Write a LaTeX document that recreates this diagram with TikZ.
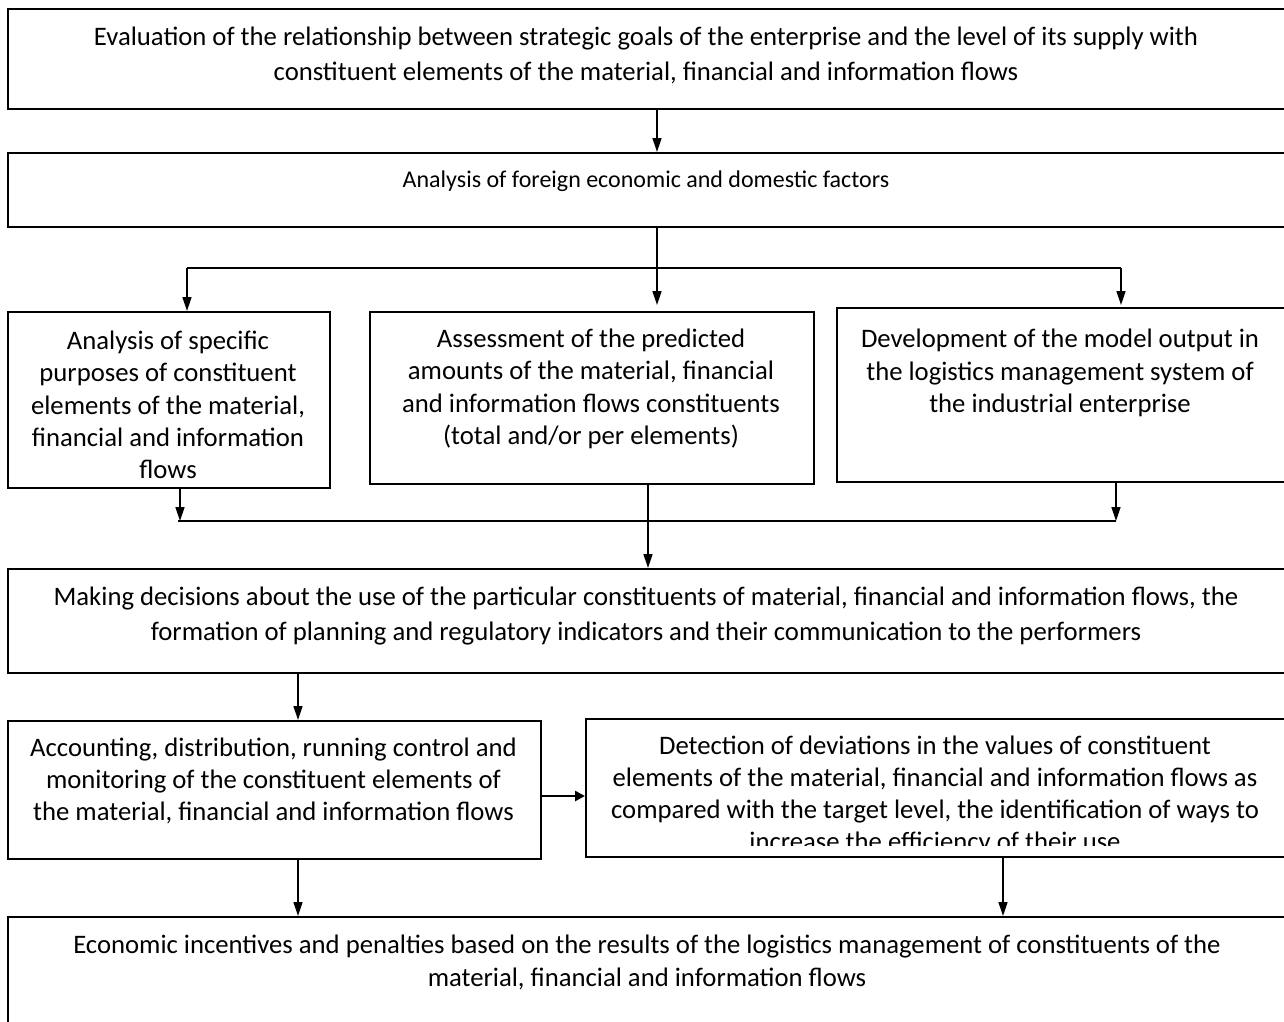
\documentclass[tikz,border=0pt]{standalone}
\usepackage{fontspec}
\setmainfont{Carlito}
\usetikzlibrary{arrows.meta}
\begin{document}
\begin{tikzpicture}[x=1pt,y=-1pt,
  box/.style={draw, line width=1.6pt, inner sep=0pt, anchor=north west},
  txt/.style={align=center, inner sep=0pt, font=\fontsize{26.7}{#1}\selectfont},
  txt/.default=33,
  small/.style={align=center, inner sep=0pt, font=\fontsize{24}{28}\selectfont},
  con/.style={line width=1.4pt, -{Triangle[length=14pt,width=9pt]}},
  bus/.style={line width=1.4pt},
  side/.style={line width=2.6pt, -{Triangle[length=10pt,width=10pt]}}]
\useasboundingbox (0,0) rectangle (1284,1021);
\clip (0,0) rectangle (1284,1021);

% boxes
\node[box, minimum width=1293pt, minimum height=100pt] (b1) at (7,8) {};
\node[box, minimum width=1293pt, minimum height=74pt] (b2) at (7,152) {};
\node[box, minimum width=322pt, minimum height=176pt] (b3a) at (7,311) {};
\node[box, minimum width=444pt, minimum height=172pt] (b3b) at (369,311) {};
\node[box, minimum width=464pt, minimum height=174pt] (b3c) at (836,307) {};
\node[box, minimum width=1293pt, minimum height=104pt] (b4) at (7,568) {};
\node[box, minimum width=533pt, minimum height=138pt] (b5a) at (7,720) {};
\node[box, minimum width=715pt, minimum height=138pt] (b5b) at (585,718) {};
\node[box, minimum width=1293pt, minimum height=114pt] (b6) at (7,916) {};

% texts
\node[txt=35] (t1) at (646,55) {Evaluation of the relationship between strategic goals of the enterprise and the level of its supply with\\constituent elements of the material, financial and information flows};
\node[small] (t2) at (646,181) {Analysis of foreign economic and domestic factors};
\node[txt=32.3] (t3a) at (168,405) {Analysis of specific\\purposes of constituent\\elements of the material,\\financial and information\\flows};
\node[txt=32.3] (t3b) at (591,389) {Assessment of the predicted\\amounts of the material, financial\\and information flows constituents\\(total and/or per elements)};
\node[txt=32.3] (t3c) at (1060,373) {Development of the model output in\\the logistics management system of\\the industrial enterprise};
\node[txt=35] (t4) at (646,616) {Making decisions about the use of the particular constituents of material, financial and information flows, the\\formation of planning and regulatory indicators and their communication to the performers};
\node[txt=32] (t5a) at (273.5,781) {Accounting, distribution, running control and\\monitoring of the constituent elements of\\the material, financial and information flows};
\begin{scope}
  \clip (b5b.north west) rectangle ([yshift=12pt]b5b.south east);
  \node[txt=32] (t5b) at (935,795) {Detection of deviations in the values of constituent\\elements of the material, financial and information flows as\\compared with the target level, the identification of ways to\\increase the efficiency of their use};
\end{scope}
\node[txt=33] (t6) at (647,962) {Economic incentives and penalties based on the results of the logistics management of constituents of the\\material, financial and information flows};

% connector positions
\coordinate (c1) at (657,0);
\coordinate (bl) at (187,268);
\coordinate (br) at (1121,268);
\coordinate (ml) at (180,521);
\coordinate (mr) at (1116,521);
\coordinate (mc) at (648,0);
\coordinate (c4) at (298,0);
\coordinate (hy) at (0,796);
\coordinate (c5) at (1003,0);

% connectors
\draw[con] (b1.south -| c1) -- (b2.north -| c1);
\draw[con] (b2.south -| c1) -- ([yshift=6pt]b3b.north -| c1);
\draw[bus] (bl) -- (br);
\draw[con] (bl) -- (b3a.north -| bl);
\draw[con] (br) -- ([yshift=2pt]b3c.north -| br);
\draw[con] (b3a.south -| ml) -- (ml);
\draw[con] (b3c.south -| mr) -- (mr);
\draw[bus] ([xshift=-2pt]ml) -- (mr);
\draw[con] (b3b.south -| mc) -- (b4.north -| mc);
\draw[con] (b4.south -| c4) -- (b5a.north -| c4);
\draw[side] (b5a.east |- hy) -- (b5b.west |- hy);
\draw[con] (b5a.south -| c4) -- (b6.north -| c4);
\draw[con] (b5b.south -| c5) -- (b6.north -| c5);
\end{tikzpicture}
\end{document}
